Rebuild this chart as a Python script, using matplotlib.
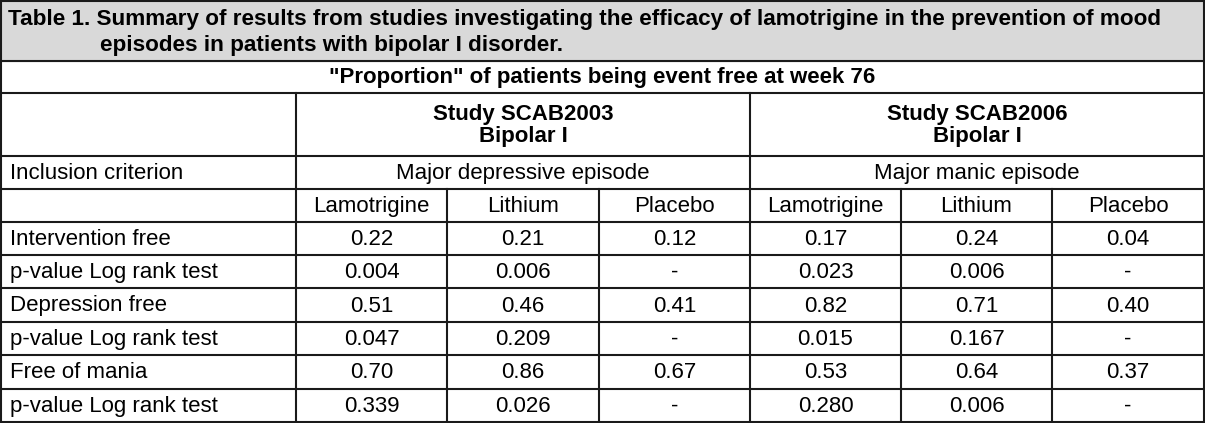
import matplotlib.pyplot as plt

plt.rcParams['font.family'] = ['Liberation Sans', 'DejaVu Sans']

title_lines = ["Table 1. Summary of results from studies investigating the efficacy of lamotrigine in the prevention of mood",
               "episodes in patients with bipolar I disorder."]
subtitle = '"Proportion" of patients being event free at week 76'
studies = ["Study SCAB2003\nBipolar I", "Study SCAB2006\nBipolar I"]
inclusion = ["Major depressive episode", "Major manic episode"]
arms = ["Lamotrigine", "Lithium", "Placebo"]
row_labels = ["Intervention free", "p-value Log rank test", "Depression free",
              "p-value Log rank test", "Free of mania", "p-value Log rank test"]
scab2003 = [["0.22", "0.21", "0.12"],
            ["0.004", "0.006", "-"],
            ["0.51", "0.46", "0.41"],
            ["0.047", "0.209", "-"],
            ["0.70", "0.86", "0.67"],
            ["0.339", "0.026", "-"]]
scab2006 = [["0.17", "0.24", "0.04"],
            ["0.023", "0.006", "-"],
            ["0.82", "0.71", "0.40"],
            ["0.015", "0.167", "-"],
            ["0.53", "0.64", "0.37"],
            ["0.280", "0.006", "-"]]

# layout in pixel coordinates
W, H = 1205, 423
cols = [1, 296, 447, 599, 750, 901, 1052, 1204]
rows = [1, 61, 93, 156, 189, 222, 255, 288, 322, 355, 389, 422]
fs = 16
lw = 1.5
edge = '#1a1a1a'

fig = plt.figure(figsize=(W / 100, H / 100), dpi=100)
ax = fig.add_axes([0, 0, 1, 1])
ax.set_xlim(0, W)
ax.set_ylim(H, 0)
ax.axis('off')

# title band
ax.fill_between([cols[0], cols[-1]], rows[0], rows[1], color='#d9d9d9', zorder=0)
ax.text(8, 19, title_lines[0], fontsize=16.2, fontweight='bold', va='center', ha='left')
ax.text(100, 45, title_lines[1], fontsize=16.2, fontweight='bold', va='center', ha='left')

# horizontal lines
for y in rows:
    ax.plot([cols[0], cols[-1]], [y, y], color=edge, lw=lw)
# outer verticals
for x in (cols[0], cols[-1]):
    ax.plot([x, x], [rows[0], rows[-1]], color=edge, lw=lw)
# study separators
for x in (cols[1], cols[4]):
    ax.plot([x, x], [rows[2], rows[-1]], color=edge, lw=lw)
# arm separators
for x in (cols[2], cols[3], cols[5], cols[6]):
    ax.plot([x, x], [rows[4], rows[-1]], color=edge, lw=lw)


def mid(a, b):
    return (a + b) / 2


ax.text(mid(cols[0], cols[-1]), mid(rows[1], rows[2]) + 1, subtitle, fontsize=fs,
        fontweight='bold', ha='center', va='center')
for i, s in enumerate(studies):
    x0, x1 = cols[1 + 3 * i], cols[4 + 3 * i]
    ax.text(mid(x0, x1), mid(rows[2], rows[3]) + 1, s, fontsize=fs, fontweight='bold',
            ha='center', va='center', linespacing=1.05)
    ax.text(mid(x0, x1), mid(rows[3], rows[4]) + 1, inclusion[i], fontsize=fs,
            ha='center', va='center')
    for j, a in enumerate(arms):
        c = 1 + 3 * i + j
        ax.text(mid(cols[c], cols[c + 1]), mid(rows[4], rows[5]) + 1, a, fontsize=fs,
                ha='center', va='center')

ax.text(10, mid(rows[3], rows[4]) + 1, "Inclusion criterion", fontsize=fs, ha='left', va='center')

for r, lab in enumerate(row_labels):
    yc = mid(rows[5 + r], rows[6 + r]) + 1
    ax.text(10, yc, lab, fontsize=fs, ha='left', va='center')
    vals = scab2003[r] + scab2006[r]
    for c, v in enumerate(vals):
        ax.text(mid(cols[1 + c], cols[2 + c]), yc, v, fontsize=fs, ha='center', va='center')

fig.savefig('out.png', dpi=100)
